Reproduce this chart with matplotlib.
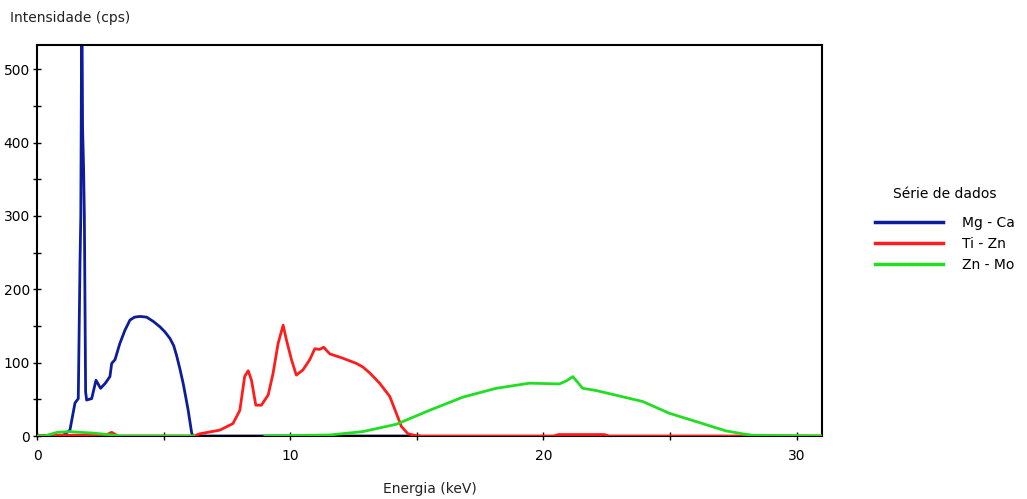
import numpy as np
import matplotlib
matplotlib.use("Agg")
import matplotlib.pyplot as plt
from matplotlib.ticker import MultipleLocator

# Series: Mg - Ca
mgca_x = [0, 1.0, 1.3, 1.5, 1.63, 1.70, 1.73, 1.77, 1.80, 1.84, 1.87, 1.92, 1.96, 2.16, 2.33,
          2.51, 2.70, 2.88, 2.95, 3.08, 3.27, 3.47, 3.67, 3.85, 4.06, 4.33, 4.60, 4.85, 5.05,
          5.25, 5.40, 5.51, 5.64, 5.77, 5.88, 5.97, 6.10, 6.14, 10.0, 15.1]
mgca_y = [0, 0, 8, 45, 51, 240, 300, 620, 420, 365, 300, 60, 49, 51, 76,
          65, 72, 81, 99, 104, 126, 144, 158, 162, 163, 162, 156, 149, 142,
          133, 123, 110, 92, 72, 52, 35, 6, 0, 0, 0]

# Series: Ti - Zn
tizn_x = [0, 0.5, 2.7, 2.95, 3.2, 6.2, 6.43, 7.22, 7.74, 8.01, 8.20, 8.34, 8.47, 8.64, 8.86,
          9.13, 9.32, 9.52, 9.72, 9.85, 10.05, 10.24, 10.50, 10.77, 10.97, 11.16, 11.32,
          11.56, 12.08, 12.61, 12.87, 13.14, 13.53, 13.93, 14.19, 14.39, 14.65, 15.04,
          20.4, 20.6, 22.4, 22.6, 31.0]
tizn_y = [0, 1, 1, 5, 0, 0, 3, 8, 17, 35, 81, 89, 76, 42, 42,
          56, 85, 126, 151, 131, 104, 83, 90, 104, 119, 118, 121,
          112, 106, 99, 94, 86, 72, 54, 31, 13, 3, 0,
          0, 2, 2, 0, 0]

# Series: Zn - Mo
znmo_x = [0, 0.3, 0.8, 1.3, 1.7, 2.2, 2.8, 3.3, 6.2, np.nan, 9.0, 11.56, 12.87, 14.19, 15.5,
          16.82, 18.13, 19.45, 20.63, 20.90, 21.16, 21.55, 22.08, 23.0, 23.92, 24.97,
          26.28, 27.2, 27.86, 28.26, 31.0]
znmo_y = [0, 0, 5, 6, 5, 4, 2, 0, 0, np.nan, 0, 1.4, 6, 16, 35,
          53, 65, 72, 71, 75, 81, 65, 62, 54.5, 47, 31,
          17, 7, 3, 1, 0]

series_labels = ["Mg - Ca", "Ti - Zn", "Zn - Mo"]
series_colors = ["#0c1c9a", "#ff1c1c", "#22dd22"]

x_ticks = [0, 10, 20, 30]
y_ticks = [0, 100, 200, 300, 400, 500]

plt.rcParams['font.family'] = ['DejaVu Sans']

fig = plt.figure(figsize=(10.27, 4.99), dpi=100)
ax = fig.add_axes([37 / 1027, 1 - 436 / 499, (822 - 37) / 1027, (436 - 45) / 499])

lw = 2.0
ax.plot(mgca_x, mgca_y, color=series_colors[0], lw=lw, label=series_labels[0], zorder=2)
ax.plot(tizn_x, tizn_y, color=series_colors[1], lw=lw, label=series_labels[1], zorder=3)
ax.plot(znmo_x, znmo_y, color=series_colors[2], lw=lw, label=series_labels[2], zorder=4)

ax.set_xlim(0, 31)
ax.set_ylim(0, 533)
ax.set_xticks(x_ticks)
ax.set_yticks(y_ticks)
ax.xaxis.set_minor_locator(MultipleLocator(5))
ax.yaxis.set_minor_locator(MultipleLocator(50))
ax.tick_params(which='both', direction='inout', length=6, width=1, colors='black',
               labelsize=10, top=False, right=False)
ax.tick_params(axis='x', pad=6)
ax.tick_params(axis='y', pad=2)
for s in ax.spines.values():
    s.set_linewidth(1.5)
    s.set_color('black')

ax.set_xlabel("Energia (keV)", fontsize=10, labelpad=14, color='#222222')
fig.text(10 / 1027, 1 - 18 / 499, "Intensidade (cps)", fontsize=10, va='center', ha='left',
         color='#222222')

leg = ax.legend(loc='upper left', bbox_to_anchor=(875 / 1027, 1 - 187 / 499),
                bbox_transform=fig.transFigure, frameon=False, title="Série de dados",
                fontsize=10, title_fontsize=10, handlelength=4.9, handletextpad=1.4,
                labelspacing=0.5, borderpad=0, borderaxespad=0)
leg._legend_box.sep = 11
for line in leg.get_lines():
    line.set_linewidth(2.5)

fig.savefig("out.png", dpi=100, facecolor='white')
